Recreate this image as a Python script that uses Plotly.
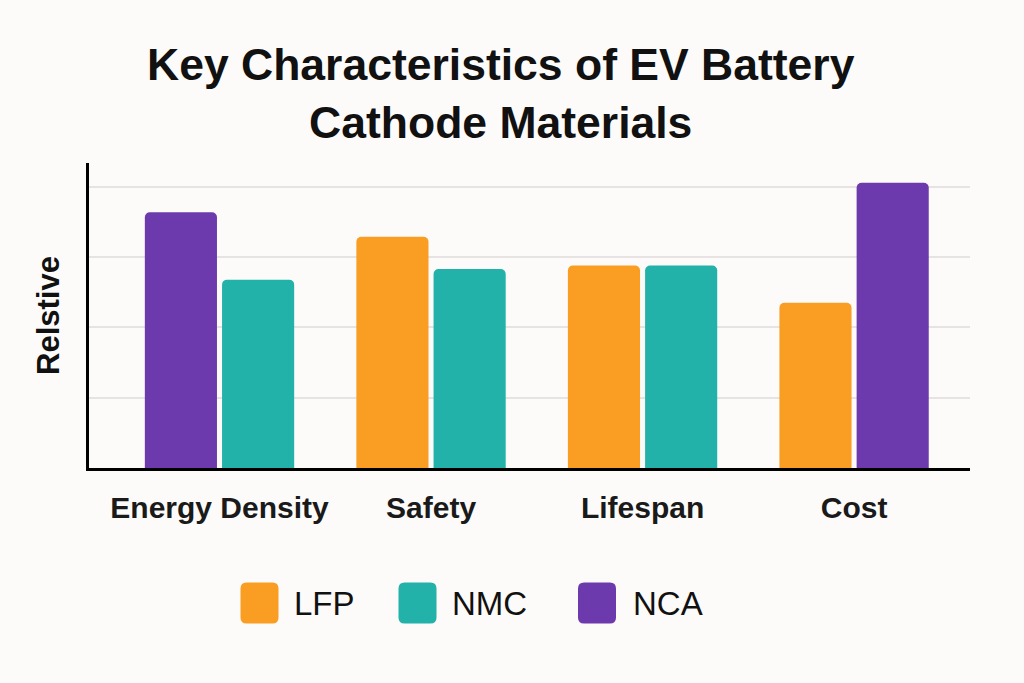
import plotly.graph_objects as go

# data (relative units, no tick labels shown)
categories = ["Energy Density", "Safety", "Lifespan", "Cost"]
series_names = ["LFP", "NMC", "NCA"]
lfp_values = [None, 3.29, 2.88, 2.35]
nmc_values = [2.68, 2.83, 2.88, None]
nca_values = [3.64, None, None, 4.06]
# which series is drawn on the left of each pair
left_series = ["NCA", "LFP", "LFP", "LFP"]

colors = {"LFP": "#F99D23", "NMC": "#22B2A9", "NCA": "#6D3AAE"}
values = {"LFP": lfp_values, "NMC": nmc_values, "NCA": nca_values}

W, H = 1024, 683
ML, MR, MT, MB = 89, 54, 163, 215
plot_w = W - ML - MR
plot_h = H - MT - MB

bar_w = 0.341
gap = 0.024

fig = go.Figure()
for name in series_names:
    offsets = [-(bar_w + gap / 2) if left_series[i] == name else gap / 2
               for i in range(len(categories))]
    fig.add_trace(go.Bar(
        x=categories, y=values[name], name=name,
        width=bar_w, offset=offsets,
        marker=dict(color=colors[name], line_width=0, cornerradius=5),
        showlegend=False,
    ))

# custom legend: big rounded swatches with labels under the plot
def px_x(px):
    return (px - ML) / plot_w

def px_y(py):
    return (H - MB - py) / plot_h

hw, hh, r = 19, 20.5, 6
swatch = (f"M {-hw + r},{-hh} L {hw - r},{-hh} Q {hw},{-hh} {hw},{-hh + r} "
          f"L {hw},{hh - r} Q {hw},{hh} {hw - r},{hh} L {-hw + r},{hh} "
          f"Q {-hw},{hh} {-hw},{hh - r} L {-hw},{-hh + r} Q {-hw},{-hh} {-hw + r},{-hh} Z")

legend_swatch_x = [259.5, 417.5, 597]
legend_text_x = [292, 450, 631]
legend_y = 603
shapes = []
annotations = []
for name, sx, tx in zip(series_names, legend_swatch_x, legend_text_x):
    shapes.append(dict(type="path", xref="paper", yref="paper",
                       xsizemode="pixel", ysizemode="pixel",
                       xanchor=px_x(sx), yanchor=px_y(legend_y),
                       path=swatch, fillcolor=colors[name], line_width=0))
    annotations.append(dict(text=name, xref="paper", yref="paper",
                            x=px_x(tx), y=px_y(legend_y), xanchor="left", yanchor="middle",
                            showarrow=False, font=dict(size=33, color="#111111")))

fig.update_layout(
    width=W, height=H,
    margin=dict(l=ML, r=MR, t=MT, b=MB),
    paper_bgcolor="#FDFBFA", plot_bgcolor="#FDFBFA",
    font=dict(family="Liberation Sans, Arial, sans-serif", color="#111111"),
    title=dict(text="Key Characteristics of EV Battery<br>Cathode Materials",
               x=0.489, xanchor="center", xref="container",
               y=1 - 80 / H, yanchor="middle", yref="container",
               font=dict(size=44.5, weight=700, color="#111111")),
    barmode="overlay",
    shapes=shapes,
    annotations=annotations,
)
fig.update_xaxes(range=[-0.617, 3.548], showline=True, linecolor="#000000", linewidth=3,
                 showgrid=False, ticks="", ticklabelstandoff=11,
                 tickfont=dict(size=30, weight=600, color="#1a1a1a"))
fig.update_yaxes(range=[0, 4.34], showline=True, linecolor="#000000", linewidth=3,
                 showgrid=True, gridcolor="#E6E3E2", gridwidth=2, zeroline=False,
                 showticklabels=False, ticks="", dtick=1,
                 title=dict(text="Relstive", standoff=18,
                            font=dict(size=31, weight=700, color="#111111")))

# drop the browser's default page margin so the figure sits at 0,0
fig.write_html("out.html", config={"displayModeBar": False},
               post_script="document.body.style.margin='0';"
                           "document.body.style.background='#FDFBFA';")
